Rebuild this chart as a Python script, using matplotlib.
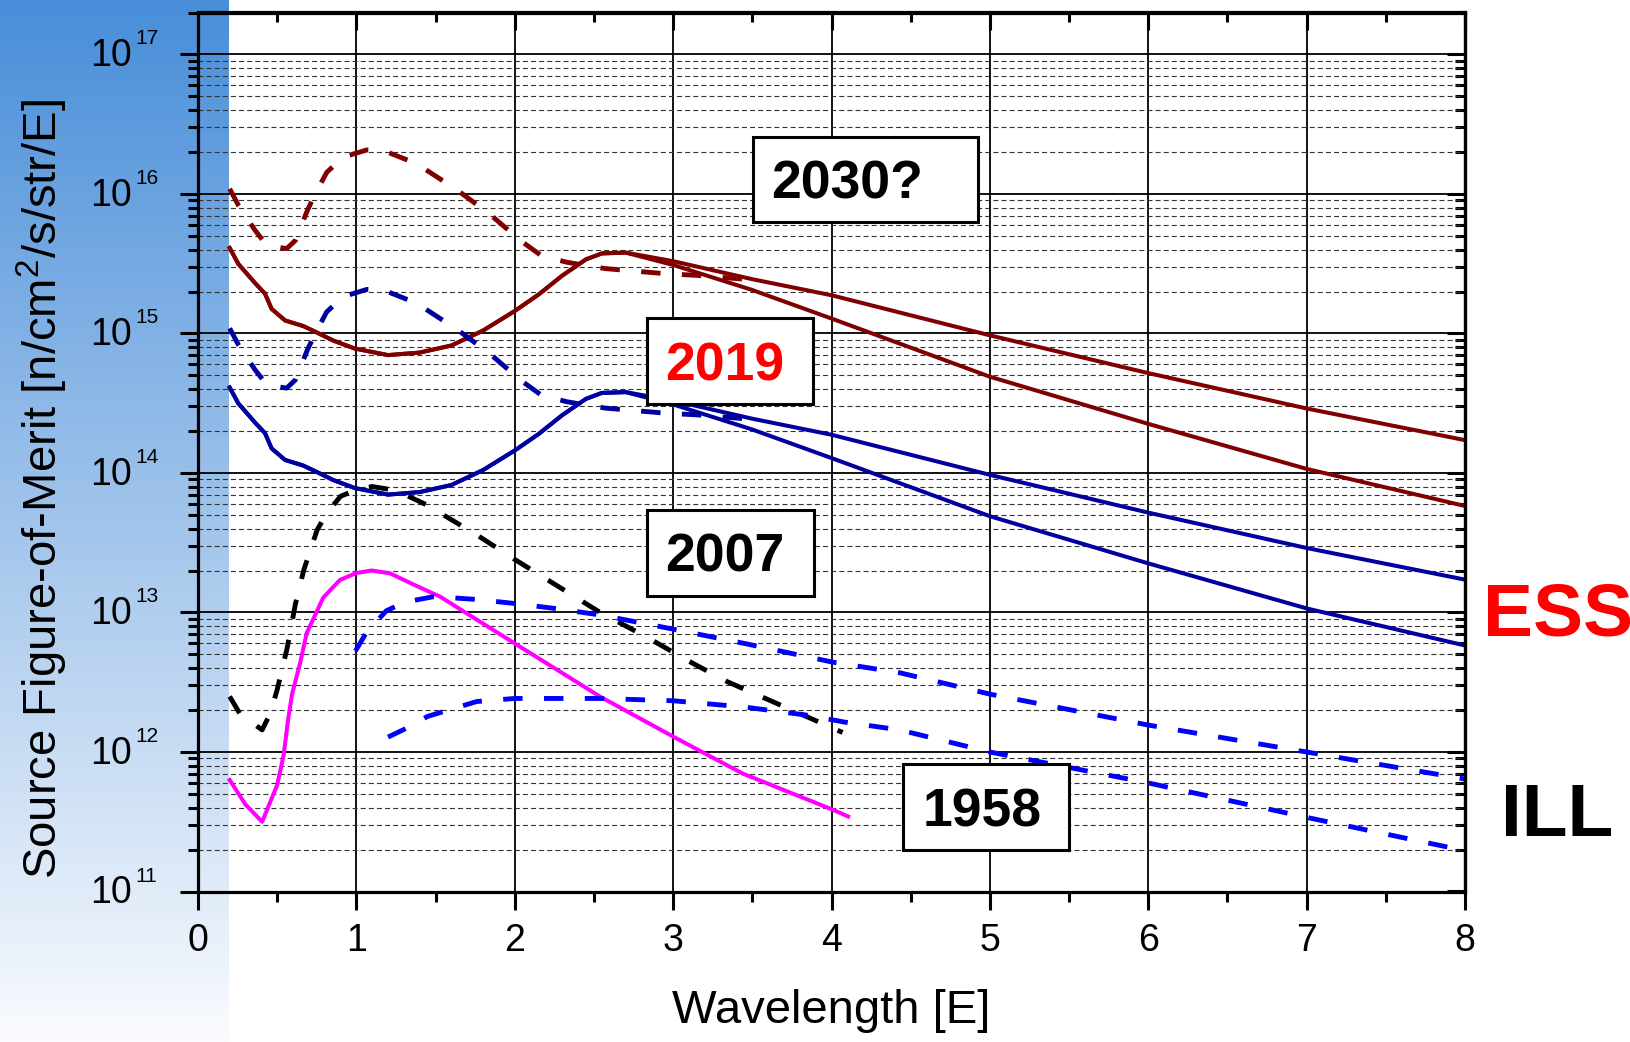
import numpy as np
import matplotlib
matplotlib.use("Agg")
import matplotlib.pyplot as plt
from matplotlib.ticker import MultipleLocator, LogLocator, NullFormatter
from matplotlib.patches import Rectangle

plt.rcParams['font.family'] = ['Liberation Sans', 'DejaVu Sans']
plt.rcParams['mathtext.default'] = 'regular'

#-----------------data (wavelength [E], FOM)
# ESS 2030? solid, common part then two branches
wl_2030 = [0.2, 0.255, 0.36, 0.423, 0.465, 0.55, 0.665, 0.74, 0.854, 0.99, 1.2, 1.4, 1.6,
           1.8, 2.0, 2.15, 2.3, 2.45, 2.55, 2.7, 3.0, 3.5, 4.0, 5.0, 6.0, 7.0, 8.0]
fom_2030_a = [4.1e15, 3.15e15, 2.3e15, 1.93e15, 1.5e15, 1.24e15, 1.13e15, 1.03e15, 8.9e14,
              7.8e14, 7.0e14, 7.3e14, 8.2e14, 1.05e15, 1.45e15, 1.9e15, 2.6e15, 3.4e15,
              3.75e15, 3.8e15, 3.3e15, 2.45e15, 1.88e15, 9.7e14, 5.2e14, 2.9e14, 1.72e14]
fom_2030_b = [4.1e15, 3.15e15, 2.3e15, 1.93e15, 1.5e15, 1.24e15, 1.13e15, 1.03e15, 8.9e14,
              7.8e14, 7.0e14, 7.3e14, 8.2e14, 1.05e15, 1.45e15, 1.9e15, 2.6e15, 3.4e15,
              3.75e15, 3.8e15, 3.1e15, 2.05e15, 1.28e15, 4.9e14, 2.25e14, 1.07e14, 5.8e13]
wl_2030_d = [0.2, 0.255, 0.36, 0.434, 0.56, 0.615, 0.69, 0.74, 0.813, 0.918, 1.066, 1.18,
             1.38, 1.64, 1.84, 2.04, 2.17, 2.33, 2.57, 2.94, 3.15, 3.45]
fom_2030_d = [1.09e16, 8.3e15, 5.5e15, 4.28e15, 4.06e15, 4.65e15, 7.6e15, 1.0e16, 1.43e16,
              1.84e16, 2.07e16, 2.03e16, 1.65e16, 1.06e16, 7.2e15, 4.6e15, 3.6e15, 3.24e15,
              2.92e15, 2.69e15, 2.61e15, 2.45e15]

# ESS 2019
fom_2019_a = [4.1e14, 3.15e14, 2.3e14, 1.93e14, 1.5e14, 1.24e14, 1.13e14, 1.03e14, 8.9e13,
              7.8e13, 7.0e13, 7.3e13, 8.2e13, 1.05e14, 1.45e14, 1.9e14, 2.6e14, 3.4e14,
              3.75e14, 3.8e14, 3.3e14, 2.45e14, 1.88e14, 9.7e13, 5.2e13, 2.9e13, 1.72e13]
fom_2019_b = [4.1e14, 3.15e14, 2.3e14, 1.93e14, 1.5e14, 1.24e14, 1.13e14, 1.03e14, 8.9e13,
              7.8e13, 7.0e13, 7.3e13, 8.2e13, 1.05e14, 1.45e14, 1.9e14, 2.6e14, 3.4e14,
              3.75e14, 3.8e14, 3.1e14, 2.05e14, 1.28e14, 4.9e13, 2.25e13, 1.07e13, 5.8e12]
fom_2019_d = [1.09e15, 8.3e14, 5.5e14, 4.28e14, 4.06e14, 4.65e14, 7.6e14, 1.0e15, 1.43e15,
              1.84e15, 2.07e15, 2.03e15, 1.65e15, 1.06e15, 7.2e14, 4.6e14, 3.6e14, 3.24e14,
              2.92e14, 2.69e14, 2.61e14, 2.45e14]

# 2007 (black dashed)
wl_2007 = [0.2, 0.267, 0.405, 0.457, 0.5, 0.562, 0.615, 0.667, 0.7, 0.752, 0.815, 0.9, 1.0,
           1.1, 1.25, 1.445, 1.76, 2.0, 2.25, 2.54, 2.84, 3.08, 3.34, 3.59, 3.84, 4.07]
fom_2007 = [2.5e12, 1.86e12, 1.44e12, 1.9e12, 2.8e12, 5.5e12, 1.15e13, 2.0e13, 2.6e13, 3.9e13,
            5.2e13, 6.8e13, 7.6e13, 8.0e13, 7.5e13, 5.9e13, 3.6e13, 2.4e13, 1.6e13, 1.0e13,
            6.6e12, 4.6e12, 3.2e12, 2.4e12, 1.8e12, 1.38e12]

# 1958 (magenta)
wl_1958 = [0.2, 0.3, 0.405, 0.5, 0.54, 0.57, 0.594, 0.646, 0.686, 0.791, 0.896, 1.0, 1.097,
           1.212, 1.38, 1.528, 2.0, 2.54, 3.0, 3.44, 4.01, 4.105]
fom_1958 = [6.3e11, 4.2e11, 3.16e11, 5.8e11, 9.4e11, 1.74e12, 2.6e12, 4.4e12, 7.1e12, 1.28e13,
            1.71e13, 1.92e13, 2.0e13, 1.91e13, 1.55e13, 1.3e13, 6.0e12, 2.49e12, 1.29e12,
            7.0e11, 3.85e11, 3.45e11]

# ILL today (blue dashed)
wl_ill_a = [0.994, 1.067, 1.19, 1.31, 1.49, 1.76, 2.0, 2.25, 2.54, 3.0, 3.45, 4.01, 4.43,
            5.0, 6.0, 7.0, 8.0]
fom_ill_a = [5.3e12, 7.3e12, 1.03e13, 1.19e13, 1.3e13, 1.24e13, 1.16e13, 1.07e13, 9.6e12,
             7.6e12, 6.0e12, 4.4e12, 3.7e12, 2.6e12, 1.56e12, 1.0e12, 6.4e11]
wl_ill_b = [1.2, 1.3, 1.45, 1.76, 2.0, 2.54, 3.0, 3.45, 3.84, 4.08, 4.43, 5.0, 6.0, 7.0, 8.0]
fom_ill_b = [1.28e12, 1.45e12, 1.8e12, 2.3e12, 2.42e12, 2.42e12, 2.33e12, 2.1e12, 1.84e12,
             1.64e12, 1.44e12, 1.0e12, 6.0e11, 3.4e11, 1.96e11]

y_decades = [11, 12, 13, 14, 15, 16, 17]
year_labels = ["2030?", "2019", "2007", "1958"]
year_colors = ["black", "red", "black", "black"]

#-----------------figure
fig = plt.figure(figsize=(16.31, 10.42), dpi=100)
fig.patch.set_facecolor("white")

# blue gradient strip on the left
bg = fig.add_axes([0, 0, 229 / 1631, 1], zorder=-1)
t = np.linspace(0, 1, 256)[:, None, None]
c_top = np.array([72, 142, 217]) / 255
c_bot = np.array([250, 251, 254]) / 255
bg.imshow(c_top + (c_bot - c_top) * t, aspect="auto", extent=[0, 1, 0, 1], origin="upper")
bg.set_axis_off()

ax = fig.add_axes([198 / 1631, 1 - 891.5 / 1042, 1267 / 1631, 879 / 1042])
ax.set_facecolor("none")

maroon = "#800000"
navy = "#0000A0"
dash = (0, (4.0, 4.4))
lw_s = 2.9
lw_d = 3.5

ax.plot(wl_2030, fom_2030_a, color=maroon, lw=lw_s)
ax.plot(wl_2030, fom_2030_b, color=maroon, lw=lw_s)
ax.plot(wl_2030_d, fom_2030_d, color=maroon, lw=lw_d, ls=dash)
ax.plot(wl_2030, fom_2019_a, color=navy, lw=lw_s)
ax.plot(wl_2030, fom_2019_b, color=navy, lw=lw_s)
ax.plot(wl_2030_d, fom_2019_d, color=navy, lw=lw_d, ls=dash)
ax.plot(wl_2007, fom_2007, color="black", lw=lw_d, ls=dash)
ax.plot(wl_1958, fom_1958, color="#FF00FF", lw=lw_s)
ax.plot(wl_ill_a, fom_ill_a, color="#0000FF", lw=lw_d, ls=dash)
ax.plot(wl_ill_b, fom_ill_b, color="#0000FF", lw=lw_d, ls=dash)

ax.set_yscale("log")
ax.set_xlim(0, 8)
ax.set_ylim(1e11, 2e17)

ax.xaxis.set_major_locator(MultipleLocator(1))
ax.xaxis.set_minor_locator(MultipleLocator(0.5))
ax.yaxis.set_major_locator(LogLocator(base=10, numticks=20))
ax.yaxis.set_minor_locator(LogLocator(base=10, subs=np.arange(2, 10), numticks=100))
ax.yaxis.set_major_formatter(NullFormatter())
ax.yaxis.set_minor_formatter(NullFormatter())

ax.grid(which="major", color="black", lw=1.3)
ax.yaxis.grid(which="minor", color="#333333", lw=0.8, ls=(0, (4.5, 2.8)))
ax.set_axisbelow("line")

ax.tick_params(which="major", direction="out", length=13, width=2.2, labelsize=27)
ax.tick_params(axis="x", which="major", pad=10)
ax.tick_params(which="minor", direction="out", length=7, width=2.2)
for s in ax.spines.values():
    s.set_linewidth(2.3)

# y tick labels in the Origin style: "10" with a raised small exponent
for k in y_decades:
    ax.annotate("10", xy=(0, 10.0 ** k), xycoords=("axes fraction", "data"),
                xytext=(-47.5, -8.4), textcoords="offset points",
                ha="right", va="baseline", fontsize=27)
    ax.annotate(str(k), xy=(0, 10.0 ** k), xycoords=("axes fraction", "data"),
                xytext=(-45.4, 7.2), textcoords="offset points",
                ha="left", va="baseline", fontsize=15)

top = ax.secondary_xaxis("top")
top.xaxis.set_major_locator(MultipleLocator(1))
top.xaxis.set_minor_locator(MultipleLocator(0.5))
top.xaxis.set_major_formatter(NullFormatter())
top.tick_params(which="major", direction="in", length=13, width=2.2)
top.tick_params(which="minor", direction="in", length=7, width=2.2)
top.spines["top"].set_linewidth(2.3)

right = ax.secondary_yaxis("right")
right.yaxis.set_major_locator(LogLocator(base=10, numticks=20))
right.yaxis.set_minor_locator(LogLocator(base=10, subs=np.arange(2, 10), numticks=100))
right.yaxis.set_major_formatter(NullFormatter())
right.yaxis.set_minor_formatter(NullFormatter())
right.tick_params(which="major", direction="in", length=13, width=2.2)
right.tick_params(which="minor", direction="in", length=7, width=2.2)
right.spines["right"].set_linewidth(2.3)

# labelled boxes (axes fraction)
boxes = [(0.438, 0.7617, 0.178, 0.0967), (0.3544, 0.5546, 0.131, 0.0978),
         (0.3541, 0.3362, 0.1323, 0.0978), (0.5564, 0.0472, 0.131, 0.0973)]
text_pos = [(0.512, 0.7886), (0.416, 0.5819), (0.416, 0.3638), (0.619, 0.0745)]
for (bx, by, bw, bh), (tx, ty), lab, col in zip(boxes, text_pos, year_labels, year_colors):
    ax.add_patch(Rectangle((bx, by), bw, bh, transform=ax.transAxes, facecolor="white",
                           edgecolor="black", lw=2.2, zorder=5, clip_on=False))
    ax.text(tx, ty, lab, transform=ax.transAxes, ha="center", va="baseline",
            fontsize=38.5, fontweight="bold", color=col, zorder=6)

fig.text(0.955, 1 - 635 / 1042, "ESS", ha="center", va="baseline", fontsize=54,
         fontweight="bold", color="red")
fig.text(0.955, 1 - 836 / 1042, "ILL", ha="center", va="baseline", fontsize=54,
         fontweight="bold", color="black")

fig.text(831.5 / 1631, 1 - 1011 / 1042, "Wavelength [E]", ha="center", va="center", fontsize=34)
fig.text(42 / 1631, 1 - 489 / 1042, r"Source Figure-of-Merit [n/cm$^2$/s/str/E]",
         rotation=90, ha="center", va="center", fontsize=34)

fig.savefig("out.png", dpi=100)
